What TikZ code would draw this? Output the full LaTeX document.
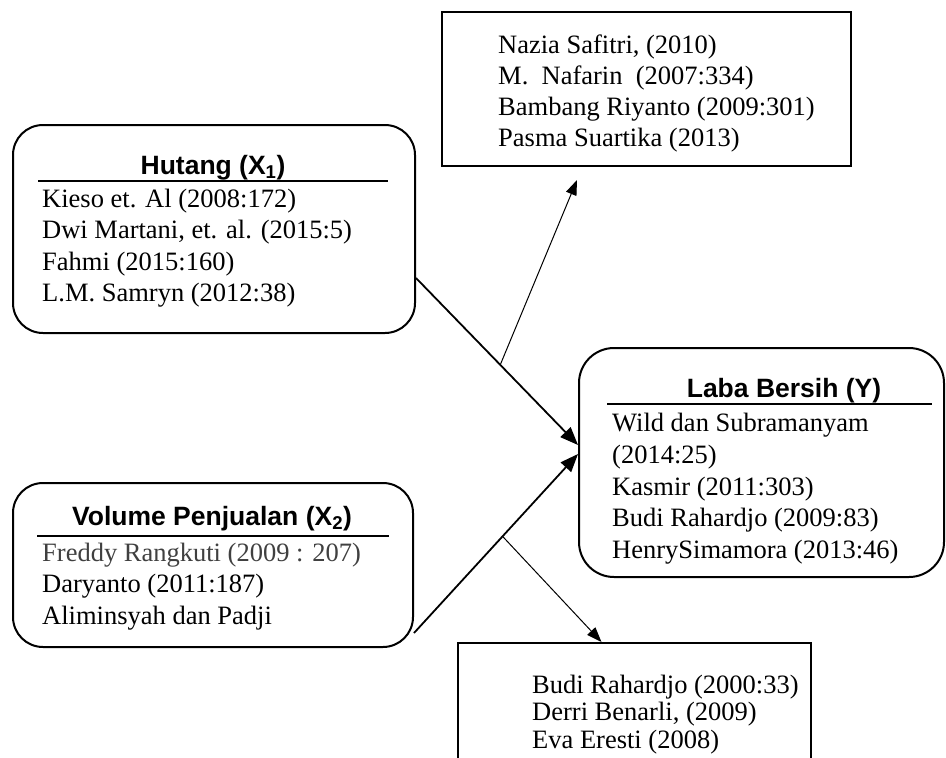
\documentclass[tikz,border=0pt]{standalone}
\usepackage{fontspec}
\setmainfont{Liberation Serif}
\newfontfamily\titlefont{Liberation Sans}
\usetikzlibrary{arrows.meta}

\definecolor{fgray}{RGB}{64,64,64}

\tikzset{
  rbox/.style={draw, line width=2pt, rounded corners=30pt, inner sep=0pt},
  sbox/.style={draw, line width=2pt, inner sep=0pt},
  ttl/.style={font=\titlefont\bfseries\fontsize{26.5}{30}\selectfont, anchor=base, inner sep=0pt},
  lst/.style={font=\fontsize{26.5}{#1}\selectfont, align=left, anchor=north west, inner sep=0pt},
  lst/.default=31.5,
}

\begin{document}
\begin{tikzpicture}[x=1pt, y=-1pt]
  \useasboundingbox (0,0) rectangle (946,758);
  \clip (0,0) rectangle (946,758);

  % kotak
  \node[rbox, minimum width=402pt, minimum height=208pt] (hutang) at (214,229) {};
  \node[rbox, minimum width=400pt, minimum height=164pt] (volume) at (213,565) {};
  \node[rbox, rounded corners=35pt, minimum width=365pt, minimum height=229pt] (laba) at (761.5,462.5) {};
  \node[sbox, minimum width=409pt, minimum height=154pt] (atas) at (646.5,89) {};
  \node[sbox, minimum width=353pt, minimum height=157pt] (bawah) at (634.5,721.5) {};

  % judul
  \node[ttl] (hutangT) at (213,174) {Hutang (X\textsubscript{1})};
  \draw[line width=1.5pt] (38,181) -- (388,181);
  \node[ttl] (volumeT) at (212,525) {Volume Penjualan (X\textsubscript{2})};
  \draw[line width=1.5pt] (37,536) -- (389,536);
  \node[ttl] (labaT) at (784,397) {Laba Bersih (Y)};
  \draw[line width=1.5pt] (607,404) -- (932,404);

  % isi
  \node[lst] (hutangL) at (42,188.5) {Kieso et. Al (2008:172)\\Dwi Martani, et. al. (2015:5)\\Fahmi (2015:160)\\L.M. Samryn (2012:38)};
  \node[lst] (volumeL) at (42,542.5) {\textcolor{fgray}{Freddy Rangkuti (2009 : 207)}\\Daryanto (2011:187)\\Aliminsyah dan Padji};
  \node[lst=31.8] (labaL) at (612,413) {Wild dan Subramanyam\\(2014:25)\\Kasmir (2011:303)\\Budi Rahardjo (2009:83)\\HenrySimamora (2013:46)};
  \node[lst=31] (atasL) at (498,34.7) {Nazia Safitri, (2010)\\M.\ \ Nafarin\ \ (2007:334)\\Bambang Riyanto (2009:301)\\Pasma Suartika (2013)};
  \node[lst=27.5] (bawahL) at (532,674.7) {Budi Rahardjo (2000:33)\\Derri Benarli, (2009)\\Eva Eresti (2008)};

  % panah
  \coordinate (ujungA) at (577,180);
  \begin{scope}[-{Triangle[length=18pt,width=14pt]}, line width=1.8pt]
    \draw ([yshift=-49pt]hutang.east) -- ([yshift=17.5pt]laba.west) coordinate[pos=0.52] (cabangA);
    \draw ([yshift=-68pt]volume.east) -- ([yshift=8.5pt]laba.west) coordinate[pos=0.54] (cabangB);
  \end{scope}
  \begin{scope}[-{Triangle[length=15pt,width=11pt]}, line width=1pt]
    \draw (cabangA) -- (ujungA);
    \draw (cabangB) -- ([xshift=-33pt]bawah.north);
  \end{scope}
\end{tikzpicture}
\end{document}
